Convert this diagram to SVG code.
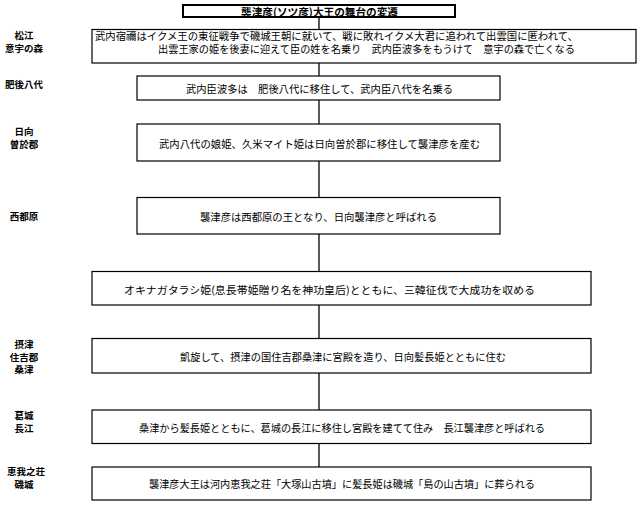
<svg xmlns="http://www.w3.org/2000/svg" width="640" height="505" viewBox="0 0 640 505">
<style>
.bx{fill:#fff;stroke:#000;stroke-width:1.2}
.t{font-family:"Noto Sans CJK JP","Noto Sans CJK SC",sans-serif;font-size:10.5px;fill:#000;dominant-baseline:central}
.lb{font-family:"Noto Sans CJK JP","Noto Sans CJK SC",sans-serif;font-size:9.5px;font-weight:bold;fill:#000;text-anchor:middle;dominant-baseline:central}
.cn{stroke:#000;stroke-width:1.3;fill:none}
</style>
<rect width="640" height="505" fill="#fff"/>
<g id="connectors">
<line class="cn" x1="319" y1="18" x2="319" y2="30"/>
<line class="cn" x1="319" y1="63" x2="319" y2="76"/>
<line class="cn" x1="319" y1="100" x2="319" y2="124"/>
<line class="cn" x1="319" y1="161" x2="319" y2="197"/>
<line class="cn" x1="319" y1="234" x2="319" y2="272"/>
<line class="cn" x1="319" y1="305" x2="319" y2="338"/>
<line class="cn" x1="319" y1="373" x2="319" y2="410"/>
<line class="cn" x1="319" y1="443" x2="319" y2="467"/>
</g>
<g id="title">
<rect x="183" y="5" width="272" height="12" fill="#fff" stroke="#000" stroke-width="2"/>
<text class="t" x="241" y="11" font-weight="bold" font-size="11" textLength="157" lengthAdjust="spacingAndGlyphs">襲津彦(ソツ彦)大王の舞台の変遷</text>
</g>
<g id="labels">
<text class="lb" x="24" y="35">松江</text>
<text class="lb" x="24" y="48">意宇の森</text>
<text class="lb" x="24" y="84">肥後八代</text>
<text class="lb" x="24" y="131">日向</text>
<text class="lb" x="24" y="143.5">曽於郡</text>
<text class="lb" x="24" y="216">西都原</text>
<text class="lb" x="24" y="344">摂津</text>
<text class="lb" x="24" y="356.5">住吉郡</text>
<text class="lb" x="24" y="369">桑津</text>
<text class="lb" x="24" y="415">葛城</text>
<text class="lb" x="24" y="427.5">長江</text>
<text class="lb" x="26" y="471">恵我之荘</text>
<text class="lb" x="24" y="483.5">磯城</text>
</g>
<g id="node1">
<rect class="bx" x="92" y="29.5" width="544" height="33.5"/>
<text class="t" x="95" y="35" textLength="483" lengthAdjust="spacingAndGlyphs">武内宿禰はイクメ王の東征戦争で磯城王朝に就いて、戦に敗れイクメ大君に追われて出雲国に匿われて、</text>
<text class="t" x="158" y="48.5" textLength="417" lengthAdjust="spacingAndGlyphs">出雲王家の姫を後妻に迎えて臣の姓を名乗り　武内臣波多をもうけて　意宇の森で亡くなる</text>
</g>
<g id="node2">
<rect class="bx" x="137" y="76" width="363" height="24"/>
<text class="t" x="186" y="88.5" textLength="267" lengthAdjust="spacingAndGlyphs">武内臣波多は　肥後八代に移住して、武内臣八代を名乗る</text>
</g>
<g id="node3">
<rect class="bx" x="137" y="124" width="363" height="37"/>
<text class="t" x="159" y="143" textLength="321" lengthAdjust="spacingAndGlyphs">武内八代の娘姫、久米マイト姫は日向曽於郡に移住して襲津彦を産む</text>
</g>
<g id="node4">
<rect class="bx" x="137" y="197.5" width="363" height="36.5"/>
<text class="t" x="200" y="216" textLength="237" lengthAdjust="spacingAndGlyphs">襲津彦は西都原の王となり、日向襲津彦と呼ばれる</text>
</g>
<g id="node5">
<rect class="bx" x="92" y="271.5" width="499" height="33.5"/>
<text class="t" x="124" y="289" textLength="411" lengthAdjust="spacingAndGlyphs">オキナガタラシ姫(息長帯姫贈り名を神功皇后)とともに、三韓征伐で大成功を収める</text>
</g>
<g id="node6">
<rect class="bx" x="92" y="338.5" width="499" height="34.5"/>
<text class="t" x="180" y="356.5" textLength="326" lengthAdjust="spacingAndGlyphs">凱旋して、摂津の国住吉郡桑津に宮殿を造り、日向髪長姫とともに住む</text>
</g>
<g id="node7">
<rect class="bx" x="92" y="410" width="499" height="33.5"/>
<text class="t" x="139" y="427" textLength="406" lengthAdjust="spacingAndGlyphs">桑津から髪長姫とともに、葛城の長江に移住し宮殿を建てて住み　長江襲津彦と呼ばれる</text>
</g>
<g id="node8">
<rect class="bx" x="92" y="467" width="499" height="33"/>
<text class="t" x="149" y="483.5" textLength="386" lengthAdjust="spacingAndGlyphs">襲津彦大王は河内恵我之荘「大塚山古墳」に髪長姫は磯城「島の山古墳」に葬られる</text>
</g>
</svg>
